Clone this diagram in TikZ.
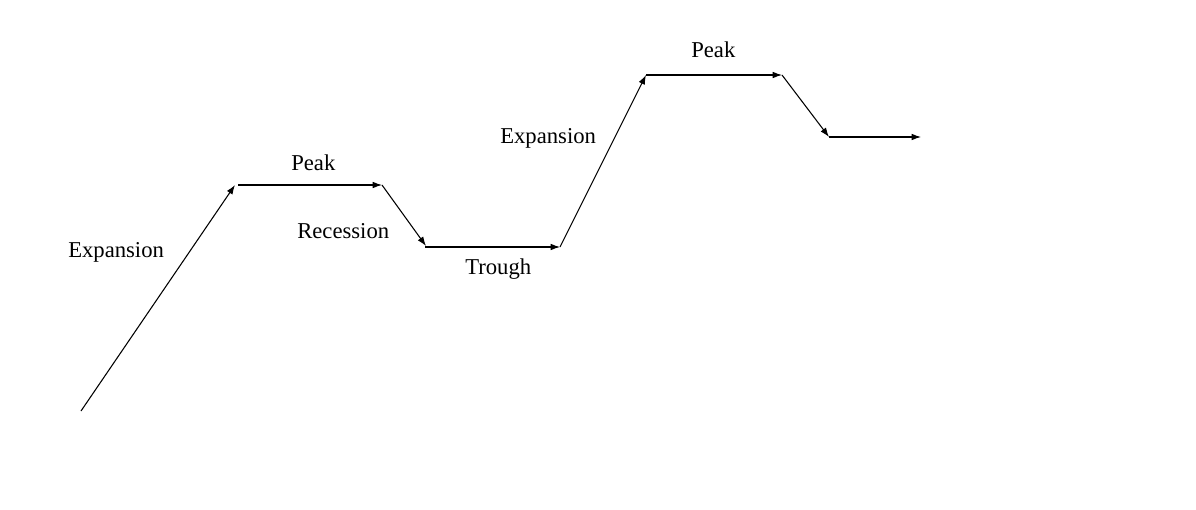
\documentclass[tikz,border=0pt]{standalone}
\usepackage{fontspec}
\setmainfont{Liberation Serif}
\usetikzlibrary{arrows.meta}
\begin{document}
\begin{tikzpicture}[x=0.75pt,y=-0.75pt,
  seg/.style={line width=0.8pt,-{Latex[length=7pt,width=5pt]}},
  lbl/.style={anchor=base west,inner sep=0pt,font=\fontsize{17}{20}\selectfont}]
\useasboundingbox (0,0) rectangle (1196,510);
\coordinate (a) at (81,411);
\coordinate (b) at (235,185);
\coordinate (b2) at (238,185);
\coordinate (c) at (382,185);
\coordinate (d) at (426,246);
\coordinate (d2) at (425,247);
\coordinate (e) at (560,247);
\coordinate (f) at (646,75);
\coordinate (g) at (782,75);
\coordinate (h) at (829,137);
\coordinate (i) at (921,137);
\draw[seg] (a) -- (b);
\draw[seg] (b2) -- (c);
\draw[seg] (c) -- (d);
\draw[seg] (d2) -- (e);
\draw[seg] (e) -- (f);
\draw[seg] (f) -- (g);
\draw[seg] (g) -- (h);
\draw[seg] (h) -- (i);
\node[lbl] (l1) at (68,257) {Expansion};
\node[lbl] (l2) at (291,171) {Peak};
\node[lbl] (l3) at (297,238) {Recession};
\node[lbl] (l4) at (465,274) {Trough};
\node[lbl] (l5) at (500,143) {Expansion};
\node[lbl] (l6) at (691,58) {Peak};
\end{tikzpicture}
\end{document}
